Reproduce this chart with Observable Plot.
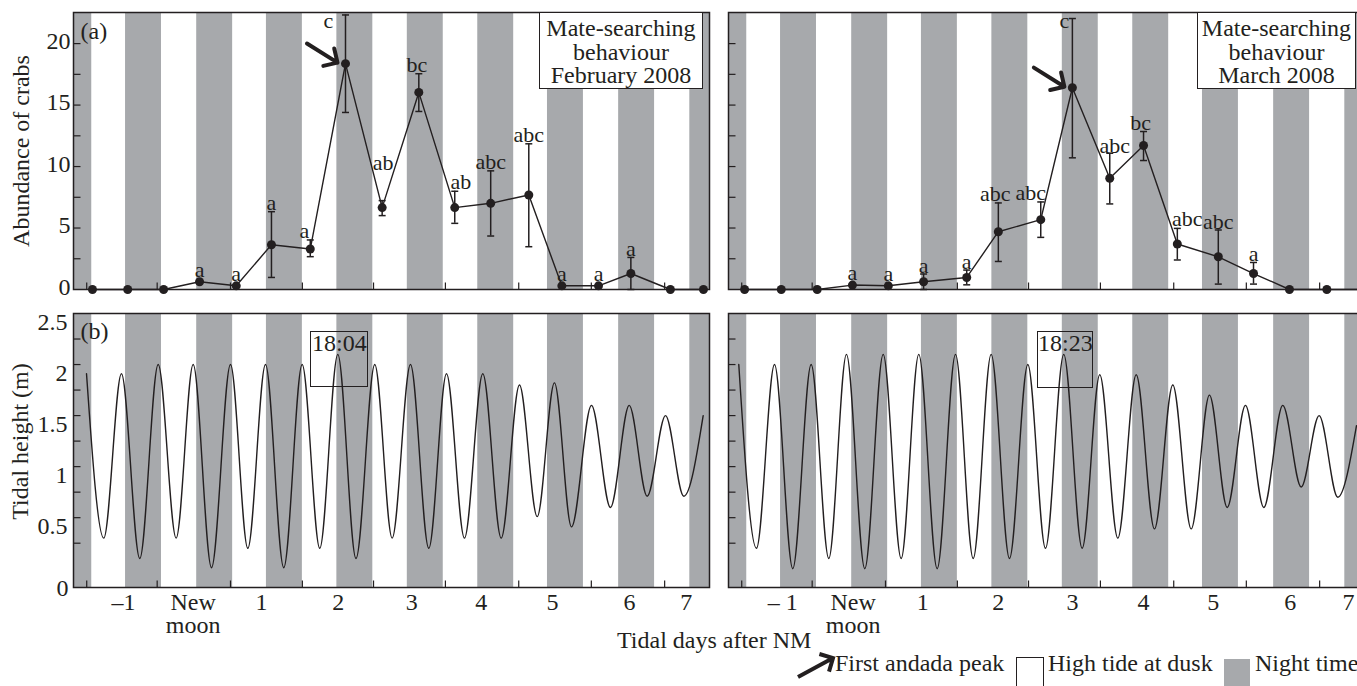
<!DOCTYPE html>
<html>
<head>
<meta charset="utf-8">
<script src="https://cdn.jsdelivr.net/npm/d3@7"></script>
<script src="https://cdn.jsdelivr.net/npm/@observablehq/plot@0.6"></script>
<style>
  body { margin: 0; background: #fff; overflow: hidden; }
  #fig { position: relative; width: 1357px; height: 686px; overflow: hidden; background: #fff;
         font-family: "Liberation Serif", serif; color: #231f20; }
  .panel { position: absolute; }
  .panel svg text { font-family: "Liberation Serif", serif; }
  .box { position: absolute; border: 1.5px solid #231f20; box-sizing: border-box; }
  .txt { position: absolute; font-size: 24px; line-height: 24px; white-space: nowrap; }
</style>
</head>
<body>
<div id="fig"></div>
<script>
// ---------------- DATA ----------------
// Sampling times (tidal days after new moon)
const sampleDaysFeb = [-1.5, -1.01, -0.51, -0.01, 0.5, 0.99, 1.53, 2.02, 2.53, 3.04, 3.54, 4.04, 4.57, 5.03, 5.54, 5.99, 6.54, 7.0];
const sampleDaysMar = [-1.54, -1.03, -0.53, -0.04, 0.46, 0.95, 1.55, 1.99, 2.58, 3.02, 3.54, 4.01, 4.48, 5.05, 5.54, 6.04, 6.56, 7.06];

// February 2008 – abundance of mate-searching crabs (mean, error bar low/high, letters)
const febMean = [0, 0, 0, 0.63, 0.30, 3.64, 3.29, 18.37, 6.66, 16.03, 6.66, 7.01, 7.69, 0.30, 0.30, 1.30, 0, 0];
const febLow  = [null, null, null, null, null, 0.98, 2.67, 14.40, 6.01, 14.48, 5.38, 4.35, 3.48, null, null, 0, null, null];
const febHigh = [null, null, null, null, null, 6.33, 4.03, 22.33, 7.23, 17.55, 7.99, 9.65, 11.85, null, null, 2.61, null, null];
const febLetters = ["", "", "", "a", "a", "a", "a", "c", "ab", "bc", "ab", "abc", "abc", "a", "a", "a", "", ""];

// March 2008
const marMean = [0, 0, 0, 0.36, 0.30, 0.63, 0.98, 4.70, 5.68, 16.41, 9.05, 11.71, 3.70, 2.66, 1.30, 0, 0, 0];
const marLow  = [null, null, null, null, null, 0, 0.38, 2.28, 4.24, 10.71, 6.96, 10.49, 2.40, 0.44, 0.44, null, null, null];
const marHigh = [null, null, null, null, null, 1.26, 1.58, 7.04, 7.12, 22.04, 11.08, 12.85, 4.97, 4.84, 2.20, null, null, null];
const marLetters = ["", "", "", "a", "a", "a", "a", "abc", "abc", "c", "abc", "bc", "abc", "abc", "a", "", "", ""];

// index of the first andada peak (arrow)
const febPeakIndex = 7;
const marPeakIndex = 9;

// Tidal extremes (high/low water): time (tidal days) and height (m)
const febTideDays = [-1.583, -1.343, -1.097, -0.842, -0.586, -0.336, -0.099, 0.156, 0.420, 0.661, 0.907, 1.161, 1.417, 1.662, 1.913, 2.166, 2.427, 2.669, 2.924, 3.179, 3.425, 3.675, 3.930, 4.186, 4.440, 4.687, 4.927, 5.164, 5.442, 5.706, 5.967, 6.217, 6.472, 6.726, 6.996];
const febTideH    = [1.91, 0.30, 1.91, 0.10, 2.00, 0.30, 2.00, 0.01, 2.00, 0.20, 2.00, 0.01, 2.00, 0.20, 2.10, 0.10, 2.00, 0.30, 2.00, 0.20, 1.91, 0.30, 1.91, 0.30, 1.80, 0.51, 1.82, 0.41, 1.60, 0.60, 1.60, 0.71, 1.50, 0.71, 1.50];
const marTideDays = [-1.621, -1.375, -1.124, -0.870, -0.614, -0.369, -0.123, 0.132, 0.388, 0.638, 0.883, 1.139, 1.394, 1.640, 1.890, 2.145, 2.400, 2.646, 2.900, 3.156, 3.401, 3.652, 3.908, 4.162, 4.417, 4.673, 4.927, 5.174, 5.428, 5.683, 5.947, 6.203, 6.453, 6.712, 6.972];
const marTideH    = [2.00, 0.20, 2.00, 0.00, 2.00, 0.10, 2.10, 0.00, 2.10, 0.10, 2.10, 0.00, 2.10, 0.10, 2.10, 0.10, 2.00, 0.20, 2.10, 0.20, 1.90, 0.30, 1.90, 0.39, 1.80, 0.39, 1.70, 0.60, 1.60, 0.60, 1.60, 0.80, 1.50, 0.70, 1.40];

// Night time (grey bands), tidal days
const nightStart = [-2.02, -1.04, -0.05, 0.92, 1.90, 2.88, 3.86, 4.83, 5.82, 6.81];
const nightEnd   = [-1.51, -0.54, 0.45, 1.42, 2.40, 3.38, 4.36, 5.33, 6.32, 7.31];

// Axes
const xTickDays = [-1.58, -0.6, 0.42, 1.42, 2.41, 3.41, 4.43, 5.44, 6.46];
const febXLabels = ["–1", "New\nmoon", "1", "2", "3", "4", "5", "6", "7"];
const febXLabelDays = [-1.07, -0.1, 0.85, 1.92, 2.94, 3.91, 4.9, 5.97, 6.76];
const marXLabels = ["– 1", "New\nmoon", "1", "2", "3", "4", "5", "6", "7"];
const marXLabelDays = [-1.01, -0.03, 0.94, 1.99, 3.02, 4.01, 4.98, 6.05, 6.86];
const crabTicks = [2.5, 5, 7.5, 10, 12.5, 15, 17.5, 20];
const crabTickLabels = [0, 5, 10, 15, 20];
const tideTicks = [0.25, 0.5, 0.75, 1, 1.25, 1.5, 1.75, 2, 2.25];
const tideTickLabels = [0.5, 1, 1.5, 2, 2.5];

// ---------------- STYLE / LAYOUT ----------------
const INK = "#231f20", GRAY = "#a7a9ac";
const X_DOMAIN = [-1.764, 7.084];
const FONT = "Liberation Serif";
const baseStyle = {background: "transparent", fontFamily: FONT, fontSize: "24px", color: INK, overflow: "visible", maxWidth: "none"};
const tickRight = {draw(c) { c.moveTo(0, 0); c.lineTo(7, 0); }};
const tickUp = {draw(c) { c.moveTo(0, 0); c.lineTo(0, -7); }};
const cap = {draw(c) { c.moveTo(-3.5, 0); c.lineTo(3.5, 0); }};
const nights = nightStart.map((s, i) => ({s, e: nightEnd[i]}));
const T = {fontFamily: FONT, fill: INK};

// label nudges (px) for letters that sit off their error bar
const nudgeFeb = {6: [-6, -9], 7: [-17, 6], 8: [1, -38], 9: [-2, -9], 10: [6, -9]};
const nudgeMar = {7: [-3, -9], 8: [-10, -9], 9: [-8, 2], 10: [5, -7], 11: [-3, -9], 12: [10, -9]};

function crabPanel(days, mean, low, high, letters, peakIndex, nudge, left) {
  const rows = days.map((d, i) => ({i, day: d, mean: mean[i], lo: low[i], hi: high[i], letter: letters[i]}));
  const err = rows.filter(r => r.hi != null);
  const letterMarks = rows.filter(r => r.letter).map(r => {
    const hasErr = r.hi != null;
    const [dx, dy] = nudge[r.i] || [0, hasErr ? -8.5 : -12];
    return Plot.text([r], {x: "day", y: hasErr ? "hi" : "mean", text: "letter", dx, dy, fontSize: 22, lineAnchor: "middle", ...T});
  });
  const marks = [
    Plot.rect(nights, {x1: "s", x2: "e", fill: GRAY, clip: true}),
    Plot.line(rows, {x: "day", y: "mean", stroke: INK, strokeWidth: 1.4}),
    Plot.ruleX(err, {x: "day", y1: "lo", y2: "hi", stroke: INK, strokeWidth: 1.5}),
    Plot.dot(err, {x: "day", y: "hi", symbol: cap, stroke: INK, strokeWidth: 1.5, fill: "none"}),
    Plot.dot(err, {x: "day", y: "lo", symbol: cap, stroke: INK, strokeWidth: 1.5, fill: "none"}),
    Plot.dot(rows, {x: "day", y: "mean", r: 4.5, fill: INK, stroke: "none"}),
    ...letterMarks,
    Plot.vector([rows[peakIndex]], {x: "day", y: "mean", length: 36, rotate: 122, anchor: "end", dx: -8, dy: -1, stroke: INK, strokeWidth: 4, r: 5}),
    Plot.dot(crabTicks, {y: d => d, frameAnchor: "left", symbol: tickRight, stroke: INK, strokeWidth: 1.2, fill: "none"}),
    Plot.dot(xTickDays, {x: d => d, frameAnchor: "bottom", symbol: tickUp, stroke: INK, strokeWidth: 1.2, fill: "none"})
  ];
  if (left) {
    marks.push(
      Plot.text(crabTickLabels, {y: d => d, text: d => String(d), frameAnchor: "left", textAnchor: "end", lineAnchor: "middle", dx: -3, dy: -2.5, fontSize: 24, ...T}),
      Plot.text(["(a)"], {frameAnchor: "top-left", text: d => d, dx: 7, dy: 19, textAnchor: "start", lineAnchor: "middle", fontSize: 24, ...T}),
      Plot.text(["Abundance of crabs"], {frameAnchor: "left", text: d => d, rotate: -90, dx: -52, textAnchor: "middle", lineAnchor: "middle", fontSize: 24, ...T})
    );
  }
  marks.push(Plot.frame({stroke: INK, strokeWidth: 1.5}));
  return Plot.plot({
    width: 720, height: 296, marginLeft: 73, marginRight: 11, marginTop: 12, marginBottom: 7,
    x: {domain: X_DOMAIN, axis: null},
    y: {domain: [0, 22.53], axis: null},
    style: baseStyle,
    marks
  });
}

function tidePanel(tDays, tH, labelDays, labels, left) {
  const tide = tDays.map((d, i) => ({day: d, h: tH[i]}));
  const xl = labelDays.map((d, i) => ({day: d, label: labels[i]}));
  const marks = [
    Plot.rect(nights, {x1: "s", x2: "e", fill: GRAY, clip: true}),
    Plot.line(tide, {x: "day", y: "h", curve: "monotone-x", stroke: INK, strokeWidth: 1.4, clip: true}),
    Plot.dot(tideTicks, {y: d => d, frameAnchor: "left", symbol: tickRight, stroke: INK, strokeWidth: 1.2, fill: "none"}),
    Plot.dot(xTickDays, {x: d => d, frameAnchor: "bottom", symbol: tickUp, stroke: INK, strokeWidth: 1.2, fill: "none"}),
    Plot.text(xl, {x: "day", text: "label", frameAnchor: "bottom", lineAnchor: "top", dy: 6, lineHeight: 0.97, fontSize: 24, ...T})
  ];
  if (left) {
    marks.push(
      Plot.text(tideTickLabels, {y: d => d, text: d => String(d), frameAnchor: "left", textAnchor: "end", lineAnchor: "middle", dx: -6, dy: 8.5, fontSize: 24, ...T}),
      Plot.text(["0"], {frameAnchor: "bottom-left", text: d => d, textAnchor: "end", lineAnchor: "middle", dx: -5, dy: 1, fontSize: 24, ...T}),
      Plot.text(["(b)"], {frameAnchor: "top-left", text: d => d, dx: 7, dy: 18, textAnchor: "start", lineAnchor: "middle", fontSize: 24, ...T}),
      Plot.text(["Tidal height (m)"], {frameAnchor: "left", text: d => d, rotate: -90, dx: -53, dy: -9, textAnchor: "middle", lineAnchor: "middle", fontSize: 24, ...T})
    );
  }
  marks.push(Plot.frame({stroke: INK, strokeWidth: 1.5}));
  return Plot.plot({
    width: 720, height: 345, marginLeft: 73, marginRight: 11, marginTop: 13, marginBottom: 58,
    x: {domain: X_DOMAIN, axis: null},
    y: {domain: [-0.184, 2.5], axis: null},
    style: baseStyle,
    marks
  });
}

const fig = document.getElementById("fig");
function place(node, left, top) {
  const d = document.createElement("div");
  d.className = "panel";
  d.style.left = left + "px";
  d.style.top = top + "px";
  d.appendChild(node);
  fig.appendChild(d);
  return d;
}
place(crabPanel(sampleDaysFeb, febMean, febLow, febHigh, febLetters, febPeakIndex, nudgeFeb, true), 0, 0);
place(tidePanel(febTideDays, febTideH, febXLabelDays, febXLabels, true), 0, 300);
place(crabPanel(sampleDaysMar, marMean, marLow, marHigh, marLetters, marPeakIndex, nudgeMar, false), 655, 0);
place(tidePanel(marTideDays, marTideH, marXLabelDays, marXLabels, false), 655, 300);

// ---------------- ANNOTATIONS / LEGEND ----------------
function html(s) { fig.insertAdjacentHTML("beforeend", s); }
const boxText = "font-size:24px;line-height:23.5px;text-align:center;padding-top:4px;background:#fff;";
html(`<div class="box" style="left:539px;top:12px;width:164px;height:77px;${boxText}">Mate-searching<br>behaviour<br>February 2008</div>`);
html(`<div class="box" style="left:1197px;top:12px;width:159px;height:77px;${boxText}">Mate-searching<br>behaviour<br>March 2008</div>`);
html(`<div class="box" style="left:310px;top:331px;width:58px;height:56px;font-size:24px;line-height:22px;padding-left:1px;">18:04</div>`);
html(`<div class="box" style="left:1037px;top:331px;width:56px;height:57px;font-size:24px;line-height:22px;padding-left:0px;">18:23</div>`);
html(`<div class="txt" style="left:617px;top:628px;">Tidal days after NM</div>`);
html(`<svg style="position:absolute;left:0;top:0" width="1357" height="686"><path d="M798,677L833,658M819.4,654L833,658L829,671.6" fill="none" stroke="${INK}" stroke-width="4"/></svg>`);
html(`<div class="txt" style="left:835px;top:651px;">First andada peak</div>`);
html(`<div class="box" style="left:1016px;top:657px;width:28px;height:40px;"></div>`);
html(`<div class="txt" style="left:1048px;top:651px;">High tide at dusk</div>`);
html(`<div style="position:absolute;left:1224px;top:659px;width:26px;height:40px;background:${GRAY};"></div>`);
html(`<div class="txt" style="left:1255px;top:651px;">Night time</div>`);
</script>
</body>
</html>
